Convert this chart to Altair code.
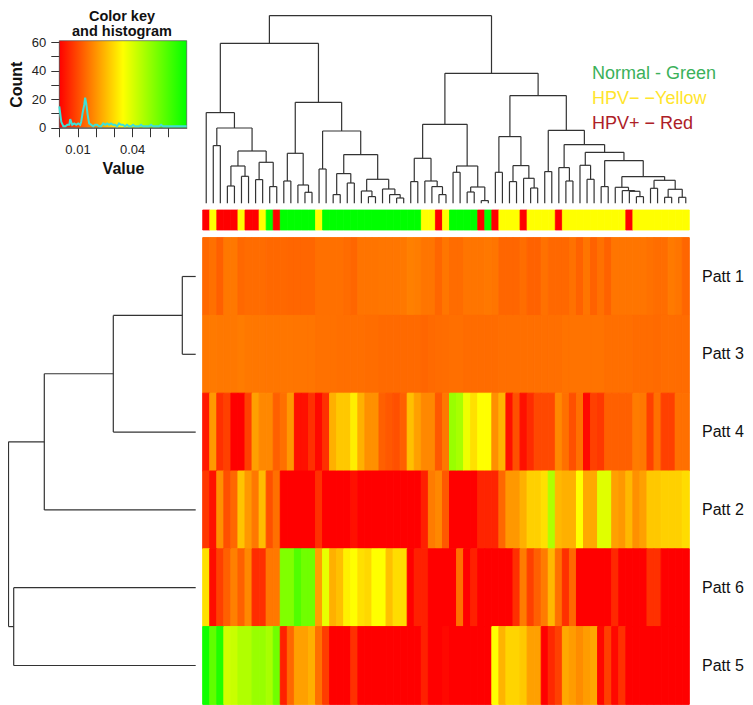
import altair as alt
import pandas as pd

FONT = "Liberation Sans"
W, H = 737, 697

# ---------- values (thousandths of the key's "Value" unit) ----------
PATT_1 = [14.3,15.4,13.2,16.5,16.5,14.3,14.8,14.8,14.8,14.3,14.3,14.3,14,14,14,14,15.4,15.4,15.4,15.4,14.8,14,15.9,15.9,15.9,16.2,16.2,16.2,16.5,17.6,17.2,16,16,14,16.2,
          14.8,14.8,16,16,16,16.5,16,14,14,14,15,13.5,13.5,15.5,14.3,14.3,14.3,15.5,13.4,16,13.4,15.5,13.4,16,16,16,16,16,15.5,15,15,16.8,16,14]
PATT_3 = [16.5,16.8,16.5,16.5,16.5,17,16.5,16.3,16.3,16.2,16.2,16.2,16.2,16,16,16,15.5,15.5,15.5,15.3,15.3,15.3,15.3,15,15,14.6,14.6,14.6,14.6,14.6,14.6,14,14.6,14.8,15,
          15.2,15.2,14.8,14.8,14.8,14.8,14.8,15.2,15.2,15.2,15.2,15.2,15.2,15.2,15.2,15.2,15.8,15.8,15.8,15.8,15.8,15.8,15.2,15.2,15.2,15.2,14.8,14.8,14.8,14.5,15,15,14.8,14.8]
PATT_4 = [3.3,21,6.6,8.8,0,0,8.8,22,18.7,18.7,13.2,15.4,20.9,2.2,2.2,6.6,1.1,6.6,24.2,27.5,27.5,32.7,24.2,19.8,19.8,13.2,12.1,11,13.2,26.4,22,18.7,18.7,12.1,16.5,
          49,47,37.3,30.7,35,35,19.8,24.7,2.2,11,2.2,6,9.9,9.9,9.9,18.7,15.4,11,15.4,1.1,8.8,7.7,13.2,13.2,13.2,13.2,17,16.5,8.8,15.4,8.8,8.8,15.4,15.4]
PATT_2 = [7.7,2.2,19.8,11,14.3,26.9,20.9,16.5,25.8,11,15.4,0,0,0,0,0,6.6,0,0,0,0,2.2,0,0,0,0,0,0,0,0,0,4.4,17,18.7,12.1,
          0,0,0,0,4.9,4.9,4.9,14.3,20.9,20.9,24.2,28.6,28.6,30.7,46,25.3,24.2,24.2,35,23.1,23.1,39.3,39.3,22,20.9,25.3,19.8,22,27.5,27.5,28.6,28.6,28.6,30.2]
PATT_6 = [30.7,1.6,8.8,13.2,17.6,13.2,18.7,6,6.6,16.5,16.5,52.4,52.4,59,54.6,54.6,22,38.2,24.2,26.4,33,35,30.7,29.6,35,35,26.4,30.2,30.2,0,4.4,4.4,0,0,0,
          0,15.4,0,4.4,0,0,0,0,0,6.6,17,8.8,13.2,17,25.3,15.4,6.6,14.3,0,0,0,0,0,5.5,0,0,0,0,6.6,6.6,0,0,0,0]
PATT_5 = [67.8,56.8,65.6,41.4,42.5,45.8,45.8,49.1,49.1,46.9,54.6,4.4,14.3,22,22,24.2,15.4,8.2,0,0,0,6.6,0,0,0,0,0,0,0,0,0,4.4,0,0,1.1,
          0,0,0,0,0,0,35,24.7,29.1,29.1,27.5,22,22,0,5.5,8.8,23.1,21.4,19.2,21.4,23.1,1.1,8.8,1.1,6.6,0,0,0,0,0,0,0,0,0]
ROWS = [PATT_1, PATT_3, PATT_4, PATT_2, PATT_6, PATT_5]
ROW_LABELS = ["Patt 1", "Patt 3", "Patt 4", "Patt 2", "Patt 6", "Patt 5"]

# sample group per column: r = HPV+, y = HPV-, g = normal
SIDE = "ryrrryrrygr" + "ggggg" + "y" + "gggggggggggggg" + "yyry" + "gggg" + "rgr" + "yyy" + "r" + "yyyy" + "r" + "yyyyyyyyy" + "r" + "yyyyyyyy"
SIDE_COLORS = {"r": "#ff0000", "y": "#ffff00", "g": "#00ff00"}

# column dendrogram: (height, left, right); an integer is a column
COL_TREE = (187.7,
    (160,
        (90.7, 0, (75.3, (57.7, 1, 2), (52.3,
            (37.3, (17.3, 3, 4), (27, 5, 6)),
            (41, (23.7, 7, 8), (16.7, 9, 10))))),
        (101,
            (50, (22.3, 11, 12), (18.3, 13, (11, 14, 15))),
            (72.3, (34.3, 16, 17), (48.7,
                (29.7, (8.7, 18, 19), (20.3, 20, 21)),
                (24, (12.3, 22, (6.7, 23, 24)), (14.3, 25, (8.7, 26, (5.3, 27, 28))))))),
    ),
    (130,
        (79,
            (45, (21.7, 29, 30), (22.3, 31, (16.7, 32, (8.7, 33, 34)))),
            (37.3, (31, 35, 36), (16.3, (11.3, 37, 38), (2.7, 39, 40)))),
        (107.7,
            (66.7, (31, 41, 42), (37.7, (21.7, 43, 44), (25, 45, (15.3, 46, 47)))),
            (73, (31.7, 48, 49), (58.7,
                (35.7, 50, (22.3, 51, 52)),
                (51, (38, 53, (24, 54, 55)), (42.7, (16.7, 56, 57), (26.7,
                    (16, 58, (12.7, 59, (12, 60, (6.7, 61, 62)))),
                    (23, (15, 63, 64), (14, (6, 65, 66), (6, 67, 68))))))))),
    ),
)

# row dendrogram: same form; an integer is a row
ROW_TREE = (187.2,
    (151.4, (82.4, (13.4, 0, 1), 2), 3),
    (182, 4, 5),
)

# histogram of the colour key
HIST_VALUE = [0,.0011,.0022,.0033,.0044,.0055,.0060,.0071,.0082,.0093,.0104,.0115,.0120,.0129,.0137,.0142,.0148,.0156,.0164,.0175,.0186,.0197,.0208,.0219,.0230,.0241,.0252,.0263,.0274,.0284,.0295,.0306,.0317,.0328,.0339,.0350,
              .0361,.0372,.0383,.0394,.0405,.0416,.0427,.0438,.0449,.0460,.0471,.0482,.0493,.0504,.0515,.0526,.0537,.0548,.0559,.0570,.0581,.0592,.0603,.0614,.0625,.0636,.0647,.0658,.0669,.0680,.0691,.0700]
HIST_COUNT = [15,4,1,1,2,2,6,2,3,2,3,2,4,11,16,21,17,9,3,2,1,2,2,1,1,3,2,3,2,3,2,2,1,3,2,2,
              1,2,1,1,2,1,1,1,2,1,1,1,1,2,1,1,1,1,2,1,1,1,1,1,1,1,1,1,1,1,1,1]
KEY_X_TICKS = [0, .01, .02, .03, .04, .05, .06]
KEY_Y_TICKS = [0, 10, 20, 30, 40, 50, 60]
LEGEND = [("Normal - Green", "#3bb15a"), ("HPV\u2212 \u2212Yellow", "#ffe52c"), ("HPV+ \u2212 Red", "#ad2027")]

# ---------- tables ----------
cells = pd.DataFrame(
    [{"col": c, "col2": c + 1, "row": r, "row2": r + 1, "value": v / 1000}
     for r, vals in enumerate(ROWS) for c, v in enumerate(vals)]
)
side = pd.DataFrame(
    [{"col": c, "col2": c + 1, "y0": 0, "y1": 1, "group": g} for c, g in enumerate(SIDE)]
)


def segments(node, out):
    """Return the centre of a subtree and append its three lines to out."""
    if isinstance(node, int):
        return node + 0.5, 0.0
    h, left, right = node
    lx, lh = segments(left, out)
    rx, rh = segments(right, out)
    out += [
        {"a": lx, "a2": lx, "h": lh, "h2": h},
        {"a": rx, "a2": rx, "h": rh, "h2": h},
        {"a": lx, "a2": rx, "h": h, "h2": h},
    ]
    return (lx + rx) / 2, h


col_seg, row_seg = [], []
segments(COL_TREE, col_seg)
segments(ROW_TREE, row_seg)
col_seg, row_seg = pd.DataFrame(col_seg), pd.DataFrame(row_seg)

# ---------- scales ----------
col_scale = alt.Scale(domain=[0, 69], range=[194.7, 681.3], nice=False, zero=False)
row_scale = alt.Scale(domain=[0, 6], range=[229.6, 696.4], nice=False, zero=False)
value_color = alt.Scale(domain=[0, 0.035, 0.07], range=["#ff0000", "#ffff00", "#00ff00"], interpolate="rgb")
key_x = alt.Scale(domain=[0, 0.07], range=[51.3, 178.7], nice=False, zero=False)
key_y = alt.Scale(domain=[0, 61], range=[119.7, 32.7], nice=False, zero=False)
LINE = "#333333"

heat = alt.Chart(cells).mark_rect(strokeWidth=1).encode(
    x=alt.X("col:Q", scale=col_scale, axis=None), x2="col2:Q",
    y=alt.Y("row:Q", scale=row_scale, axis=None), y2="row2:Q",
    color=alt.Color("value:Q", scale=value_color, legend=None),
    stroke=alt.Stroke("value:Q", scale=value_color, legend=None),
)
side_bar = alt.Chart(side).mark_rect(strokeWidth=0.8).encode(
    x=alt.X("col:Q", scale=col_scale, axis=None), x2="col2:Q",
    y=alt.Y("y0:Q", scale=alt.Scale(domain=[0, 1], range=[222, 202], nice=False, zero=False), axis=None), y2="y1:Q",
    color=alt.Color("group:N", scale=alt.Scale(domain=list(SIDE_COLORS), range=list(SIDE_COLORS.values())), legend=None),
    stroke=alt.Stroke("group:N", scale=alt.Scale(domain=list(SIDE_COLORS), range=list(SIDE_COLORS.values())), legend=None),
)
col_dend = alt.Chart(col_seg).mark_rule(color=LINE, strokeWidth=1.2).encode(
    x=alt.X("a:Q", scale=col_scale, axis=None), x2="a2:Q",
    y=alt.Y("h:Q", scale=alt.Scale(domain=[0, 187.7], range=[195.3, 7.6], nice=False, zero=False), axis=None), y2="h2:Q",
)
row_dend = alt.Chart(row_seg).mark_rule(color=LINE, strokeWidth=1.2).encode(
    y=alt.Y("a:Q", scale=row_scale, axis=None), y2="a2:Q",
    x=alt.X("h:Q", scale=alt.Scale(domain=[0, 187.2], range=[187.7, 0.5], nice=False, zero=False), axis=None), x2="h2:Q",
)
row_text = alt.Chart(pd.DataFrame(
    {"label": ROW_LABELS, "pos": [i + 0.5 for i in range(6)]}
)).mark_text(font=FONT, fontSize=16, align="left", baseline="middle", color="#111111").encode(
    x=alt.value(694),
    y=alt.Y("pos:Q", scale=row_scale, axis=None),
    text="label:N",
)
legend_text = alt.layer(*[
    alt.Chart(pd.DataFrame({"label": [t]})).mark_text(
        font=FONT, fontSize=18, align="left", baseline="middle", color=c
    ).encode(x=alt.value(584), y=alt.value(yp), text="label:N")
    for (t, c), yp in zip(LEGEND, [66, 91, 116])
])

key_rect = alt.Chart(pd.DataFrame({"a": [0], "b": [0.07], "c": [0], "d": [61]})).mark_rect(
    fill=alt.Gradient(gradient="linear", x1=0, x2=1, y1=0, y2=0, stops=[
        alt.GradientStop(offset=0, color="#ff0000"),
        alt.GradientStop(offset=0.5, color="#ffff00"),
        alt.GradientStop(offset=1, color="#00ff00"),
    ]),
    stroke="#555555", strokeWidth=0.7,
).encode(
    x=alt.X("a:Q", scale=key_x, axis=alt.Axis(
        values=KEY_X_TICKS, title="Value", titleFont=FONT, titleFontSize=16, titleFontWeight="bold",
        titleColor="#111111", titlePadding=4, labelFont=FONT, labelFontSize=13, labelColor="#222222",
        labelExpr="(abs(datum.value-0.01)<1e-6||abs(datum.value-0.04)<1e-6)?format(datum.value,'.2f'):''",
        labelOverlap=False, labelPadding=7, labelFlush=False, tickSize=9, tickColor=LINE, domainColor=LINE,
        grid=False, offset=119.7 - H,
    )),
    x2="b:Q",
    y=alt.Y("c:Q", scale=key_y, axis=alt.Axis(
        values=KEY_Y_TICKS, title="Count", titleFont=FONT, titleFontSize=16, titleFontWeight="bold",
        titleColor="#111111", titlePadding=7, labelFont=FONT, labelFontSize=13, labelColor="#222222",
        labelExpr="datum.value%20==0?datum.label:''",
        labelOverlap=False, labelPadding=5, labelFlush=False, tickSize=8.5, tickColor=LINE, domainColor=LINE,
        grid=False, offset=-51.3,
    )),
    y2="d:Q",
)
key_hist = alt.Chart(pd.DataFrame({"value": HIST_VALUE, "count": HIST_COUNT})).mark_line(
    color="#3fe0d6", strokeWidth=2, interpolate="linear"
).encode(
    x=alt.X("value:Q", scale=key_x, axis=None),
    y=alt.Y("count:Q", scale=key_y, axis=None),
)
key_title = alt.layer(*[
    alt.Chart(pd.DataFrame({"label": [t]})).mark_text(
        font=FONT, fontSize=14.5, fontWeight="bold", align="center", baseline="middle", color="#111111"
    ).encode(x=alt.value(114), y=alt.value(yp), text="label:N")
    for t, yp in [("Color key", 9), ("and histogram", 24)]
])

chart = alt.layer(
    heat, side_bar, col_dend, row_dend, row_text, legend_text, key_rect, key_hist, key_title
).resolve_scale(x="independent", y="independent", color="independent", stroke="independent").properties(
    width=W, height=H, padding=0, autosize=alt.AutoSizeParams(type="none"),
).configure_view(stroke=None).configure_axis(domain=True)

chart.save("out.html", embed_options={"renderer": "svg", "actions": False})
